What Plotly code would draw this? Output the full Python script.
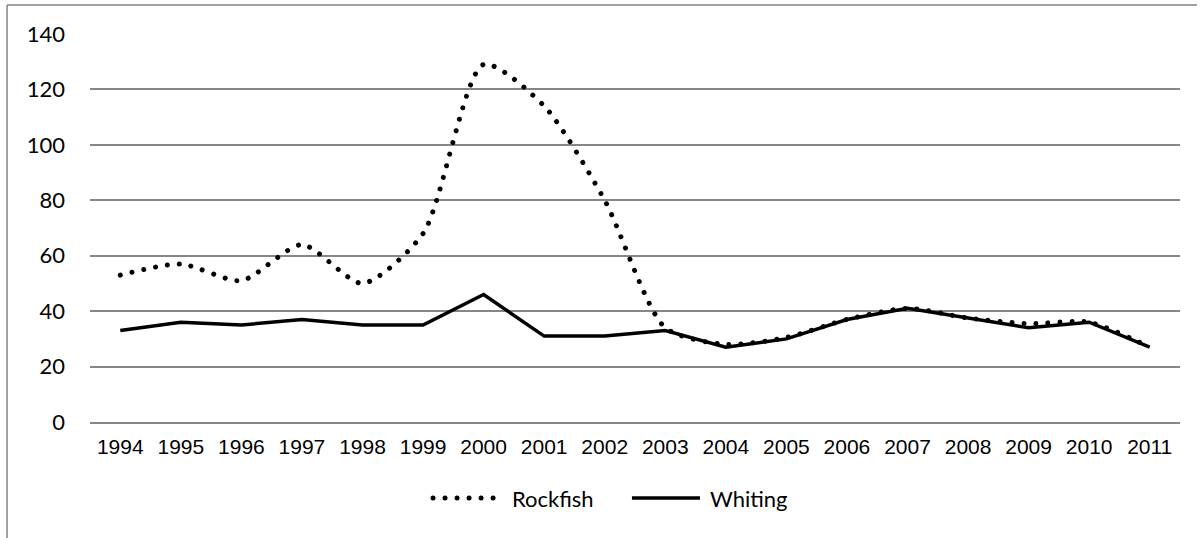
import plotly.graph_objects as go

years = ["1994", "1995", "1996", "1997", "1998", "1999", "2000", "2001", "2002",
         "2003", "2004", "2005", "2006", "2007", "2008", "2009", "2010", "2011"]
rockfish = [53, 57, 51, 64, 50, 68, 129, 114, 80, 34, 28, 30.5, 37, 41, 37.5, 35.5, 36, 27]
whiting = [33, 36, 35, 37, 35, 35, 46, 31, 31, 33, 27, 30, 37, 41, 37.5, 34, 36, 27]
y_ticks = [0, 20, 40, 60, 80, 100, 120, 140]
series_names = ["Rockfish", "Whiting"]

GRID = "#868686"
CAL = "Lato, Calibri, Carlito, sans-serif"
ARIAL = "'Liberation Sans', Arial, sans-serif"
DOT = "4px,8px"

fig = go.Figure()
fig.add_trace(go.Scatter(
    x=years, y=rockfish, name=series_names[0], mode="lines",
    line=dict(color="#000000", width=5, dash=DOT, shape="spline", smoothing=0.7),
    showlegend=False, hoverinfo="x+y+name"))
fig.add_trace(go.Scatter(
    x=years, y=whiting, name=series_names[1], mode="lines",
    line=dict(color="#000000", width=3.5),
    showlegend=False, hoverinfo="x+y+name"))

shapes = [
    dict(type="line", xref="paper", yref="paper", x0=-0.0761, x1=-0.0761, y0=1.0747, y1=-0.4,
         line=dict(color=GRID, width=1.5), layer="above"),
    dict(type="line", xref="paper", yref="paper", x0=-0.0761, x1=1.0156, y0=1.0747, y1=1.0747,
         line=dict(color=GRID, width=1.5), layer="above"),
    dict(type="line", xref="paper", yref="paper", x0=0.3147, x1=0.3734, y0=-0.196, y1=-0.196,
         line=dict(color="#000000", width=5, dash=DOT)),
    dict(type="line", xref="paper", yref="paper", x0=0.4972, x1=0.5596, y0=-0.196, y1=-0.196,
         line=dict(color="#000000", width=3.5)),
]
annotations = [
    dict(text=series_names[0], xref="paper", yref="paper", x=0.3853, y=-0.196,
         xanchor="left", yanchor="middle", showarrow=False,
         font=dict(family=CAL, size=22, color="#000000")),
    dict(text=series_names[1], xref="paper", yref="paper", x=0.567, y=-0.196,
         xanchor="left", yanchor="middle", showarrow=False,
         font=dict(family=CAL, size=22, color="#000000")),
]

fig.update_layout(
    width=1202, height=538, autosize=False,
    margin=dict(l=90, r=22, t=34, b=116, pad=0),
    paper_bgcolor="#ffffff", plot_bgcolor="#ffffff",
    shapes=shapes, annotations=annotations,
    showlegend=False,
    xaxis=dict(type="category", range=[-0.5, 17.5], showgrid=False, zeroline=False,
               showline=True, linecolor=GRID, linewidth=1.5,
               tickfont=dict(family=ARIAL, size=21, color="#000000"),
               ticks="", ticklabelstandoff=5, fixedrange=True),
    yaxis=dict(range=[0, 140], tickvals=y_ticks, showgrid=True, gridcolor=GRID, gridwidth=1.5,
               zeroline=False, showline=False,
               tickfont=dict(family=CAL, size=22, color="#000000"),
               ticks="", ticklabelstandoff=24, fixedrange=True),
)

post = """
document.body.style.margin = '0';
document.querySelectorAll('path').forEach(function(p){
  var d = p.style.strokeDasharray;
  if (d && d !== 'none' && d.indexOf('4px') >= 0) {
    p.style.strokeLinecap = 'round';
    p.style.strokeDasharray = '0.01px, 12px';
  }
});
"""
fig.write_html("out.html", post_script=post, config={"displayModeBar": False})
